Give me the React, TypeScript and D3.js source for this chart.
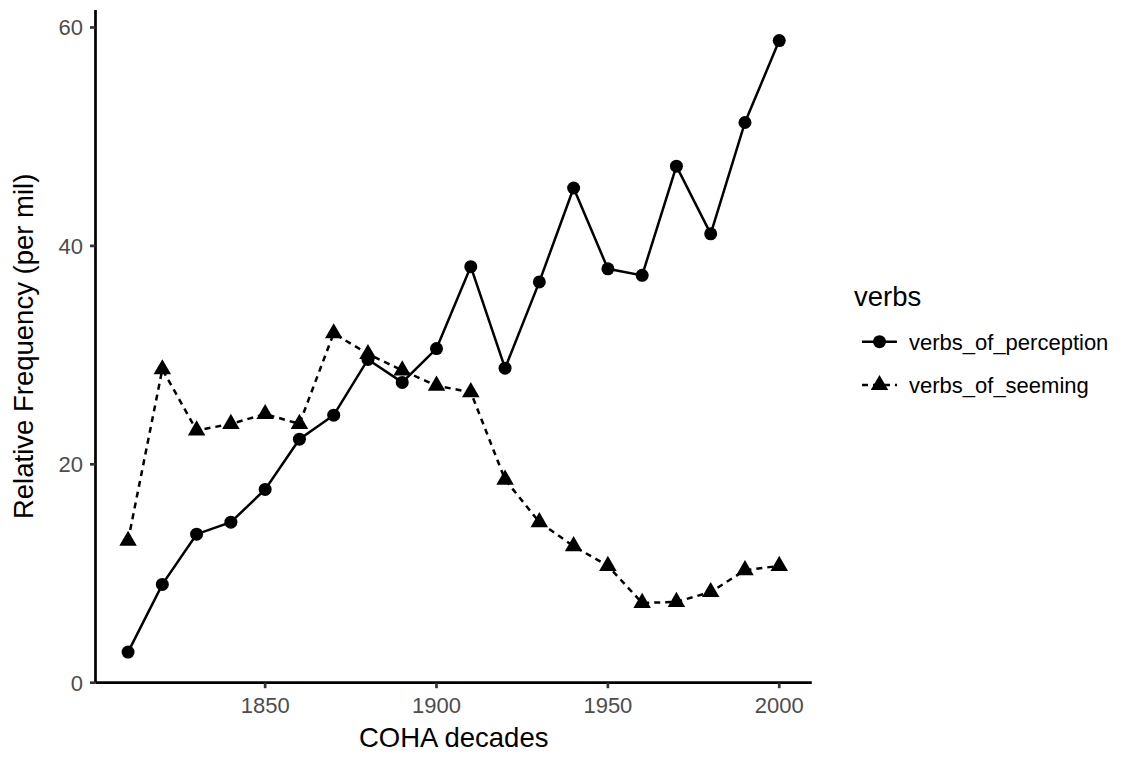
import React from "react"
import { scaleLinear, line, extent } from "d3"

const width = 1133
const height = 757

// values (per mil)
const decades = [1810, 1820, 1830, 1840, 1850, 1860, 1870, 1880, 1890, 1900,
  1910, 1920, 1930, 1940, 1950, 1960, 1970, 1980, 1990, 2000]
const perception = [2.8, 9.0, 13.6, 14.7, 17.7, 22.3, 24.5, 29.6, 27.5, 30.6,
  38.1, 28.8, 36.7, 45.3, 37.9, 37.3, 47.3, 41.1, 51.3, 58.8]
const seeming = [13.0, 28.7, 23.1, 23.7, 24.6, 23.7, 32.0, 30.1, 28.6, 27.2,
  26.6, 18.6, 14.7, 12.5, 10.7, 7.3, 7.4, 8.3, 10.3, 10.7]
const seriesNames = ["verbs_of_perception", "verbs_of_seeming"]
const xTicks = [1850, 1900, 1950, 2000]
const yTicks = [0, 20, 40, 60]

const panel = { left: 95.5, right: 811.8, top: 10, bottom: 682.7 }
const font = "'Liberation Sans', Arial, Helvetica, sans-serif"
const axisColor = "#333333"
const tickText = "#4D4D4D"
const lineW = 2.5
const dash = "6,5"
const r = 6.5

// ggplot-ish 5% expansion
const expand = (ext: number[]) => {
  const pad = (ext[1] - ext[0]) * 0.05
  return [ext[0] - pad, ext[1] + pad]
}

const Circle = ({ x, y }: { x: number; y: number }) => <circle cx={x} cy={y} r={r} fill="black" />

const Triangle = ({ x, y }: { x: number; y: number }) => {
  const tr = r * 1.555
  const xc = r * 1.3468
  return <path d={`M${x},${y - tr}L${x + xc},${y + tr / 2}L${x - xc},${y + tr / 2}Z`} fill="black" />
}

function App() {
  const xScale = scaleLinear()
    .domain(expand(extent(decades) as number[]))
    .range([panel.left, panel.right])

  const yScale = scaleLinear()
    .domain(expand(extent([...perception, ...seeming]) as number[]))
    .range([panel.bottom, panel.top])

  const path = line<number>()
    .x((_, i) => xScale(decades[i]))
    .y(d => yScale(d))

  const legendX = 854
  const keyY = [341.7, 385]

  return (
    <svg width={width} height={height} style={{ position: "absolute", left: 0, top: 0, fontFamily: font }}>
      <rect width={width} height={height} fill="white" />

      {/* data */}
      <path d={path(seeming) || ""} fill="none" stroke="black" strokeWidth={lineW} strokeDasharray={dash} />
      <path d={path(perception) || ""} fill="none" stroke="black" strokeWidth={lineW} />
      {seeming.map((v, i) => <Triangle key={"s" + i} x={xScale(decades[i])} y={yScale(v)} />)}
      {perception.map((v, i) => <Circle key={"p" + i} x={xScale(decades[i])} y={yScale(v)} />)}

      {/* axes */}
      <line x1={panel.left} x2={panel.right} y1={panel.bottom} y2={panel.bottom} stroke="black" strokeWidth={2.7} />
      <line x1={panel.left} x2={panel.left} y1={panel.top} y2={panel.bottom} stroke="black" strokeWidth={2.7} />
      {xTicks.map(t => (
        <g key={t} transform={`translate(${xScale(t)}, ${panel.bottom})`}>
          <line y2={5.5} stroke={axisColor} strokeWidth={2.7} />
          <text y={30} textAnchor="middle" fontSize={22} fill={tickText}>{t}</text>
        </g>
      ))}
      {yTicks.map(t => (
        <g key={t} transform={`translate(${panel.left}, ${yScale(t)})`}>
          <line x2={-5.5} stroke={axisColor} strokeWidth={2.7} />
          <text x={-12.5} dy="0.36em" textAnchor="end" fontSize={22} fill={tickText}>{t}</text>
        </g>
      ))}

      <text x={(panel.left + panel.right) / 2} y={746.7} textAnchor="middle" fontSize={27.5} fill="black">COHA decades</text>
      <text transform={`translate(33, ${(panel.top + panel.bottom) / 2}) rotate(-90)`} textAnchor="middle" fontSize={27.5} fill="black">
        Relative Frequency (per mil)
      </text>

      {/* legend */}
      <text x={legendX} y={306} fontSize={27.5} fill="black">verbs</text>
      {seriesNames.map((name, i) => (
        <g key={name} transform={`translate(862, ${keyY[i]})`}>
          <line x1={0} x2={35} stroke="black" strokeWidth={lineW} strokeDasharray={i === 1 ? dash : undefined} />
          {i === 0 ? <Circle x={17.5} y={0} /> : <Triangle x={17.5} y={0} />}
          <text x={47} dy="0.36em" fontSize={22} fill="black">{name}</text>
        </g>
      ))}
    </svg>
  )
}

export default App
